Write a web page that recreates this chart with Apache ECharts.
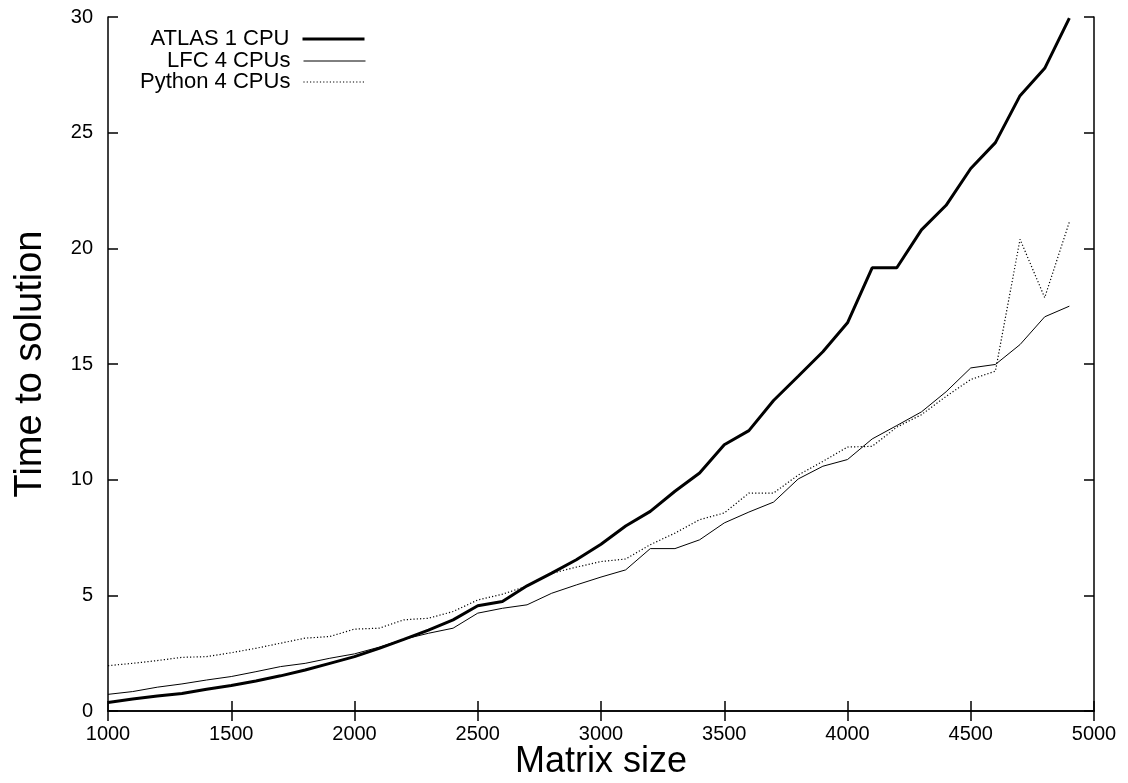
<!DOCTYPE html>
<html>
<head>
<meta charset="utf-8">
<script src="https://cdn.jsdelivr.net/npm/echarts@6/dist/echarts.min.js"></script>
<style>
  html, body { margin: 0; padding: 0; background: #fff; }
  #container { width: 1128px; height: 783px; }
</style>
</head>
<body>
<div id="container"></div>
<script>
var sizes = [1000, 1100, 1200, 1300, 1400, 1500, 1600, 1700, 1800, 1900,
             2000, 2100, 2200, 2300, 2400, 2500, 2600, 2700, 2800, 2900,
             3000, 3100, 3200, 3300, 3400, 3500, 3600, 3700, 3800, 3900,
             4000, 4100, 4200, 4300, 4400, 4500, 4600, 4700, 4800, 4900];
var atlas1 = [0.37, 0.52, 0.65, 0.76, 0.94, 1.1, 1.3, 1.52, 1.77, 2.06,
              2.35, 2.71, 3.1, 3.5, 3.94, 4.55, 4.73, 5.41, 5.96, 6.54,
              7.21, 8.0, 8.63, 9.5, 10.29, 11.51, 12.12, 13.42, 14.47, 15.53,
              16.78, 19.16, 19.16, 20.8, 21.86, 23.45, 24.57, 26.6, 27.78, 29.95];
var lfc4 = [0.72, 0.84, 1.03, 1.17, 1.34, 1.49, 1.7, 1.92, 2.06, 2.28,
            2.47, 2.76, 3.1, 3.36, 3.58, 4.23, 4.44, 4.59, 5.09, 5.45,
            5.79, 6.1, 7.02, 7.02, 7.4, 8.13, 8.6, 9.03, 10.03, 10.58,
            10.87, 11.76, 12.34, 12.93, 13.8, 14.83, 14.98, 15.84, 17.04, 17.5];
var python4 = [1.96, 2.06, 2.18, 2.32, 2.35, 2.52, 2.71, 2.93, 3.15, 3.22,
               3.54, 3.58, 3.94, 4.01, 4.3, 4.8, 5.05, 5.4, 5.95, 6.22,
               6.46, 6.57, 7.19, 7.69, 8.27, 8.56, 9.42, 9.42, 10.2, 10.79,
               11.41, 11.44, 12.27, 12.81, 13.6, 14.33, 14.69, 20.39, 17.87, 21.14];
var names = ['ATLAS 1 CPU', 'LFC 4 CPUs', 'Python 4 CPUs'];
var widths = [3, 1, 1.2];

function pairs(vals) {
    return sizes.map(function (s, i) { return [s, vals[i]]; });
}

var font = 'Liberation Sans';
var frame = { lineStyle: { color: '#000', width: 1.5 } };
var tick = { inside: true, length: 10, lineStyle: { color: '#000', width: 1.5 } };

var dom = document.getElementById('container');
var myChart = echarts.init(dom);

// one legend per row so the line samples line up on the right
function legendRow(i, top) {
    return {
        data: [names[i]],
        right: 762,
        top: top,
        orient: 'vertical',
        align: 'right',
        padding: 0,
        itemWidth: 62,
        itemHeight: 14,
        selectedMode: false,
        itemStyle: { opacity: 0 },
        lineStyle: { width: widths[i] },
        textStyle: { fontFamily: font, fontSize: 22, color: '#000', lineHeight: 22, padding: [0, 8, 0, 0] }
    };
}

option = {
    backgroundColor: '#fff',
    animation: false,
    grid: { left: 108, right: 34, top: 17, bottom: 72, containLabel: false, outerBoundsMode: 'none' },
    legend: [
        legendRow(0, 28),
        legendRow(1, 50),
        legendRow(2, 71)
    ],
    xAxis: [
        {
            type: 'value', min: 1000, max: 5000, interval: 500,
            name: 'Matrix size', nameLocation: 'middle', nameGap: 33, nameMoveOverlap: false,
            nameTextStyle: { fontFamily: font, fontSize: 36, color: '#000' },
            axisLine: frame, axisTick: tick,
            axisLabel: {
                fontFamily: font, fontSize: 20, color: '#000', margin: 13,
                formatter: function (v) { return String(v); }
            },
            splitLine: { show: false }
        },
        {
            type: 'value', position: 'top', min: 1000, max: 5000, interval: 500,
            axisLine: frame, axisTick: tick,
            axisLabel: { show: false }, splitLine: { show: false }
        }
    ],
    yAxis: [
        {
            type: 'value', min: 0, max: 30, interval: 5,
            name: 'Time to solution', nameLocation: 'middle', nameGap: 58, nameMoveOverlap: false,
            nameTextStyle: { fontFamily: font, fontSize: 38, color: '#000' },
            axisLine: frame, axisTick: tick,
            axisLabel: { fontFamily: font, fontSize: 20, color: '#000', margin: 15 },
            splitLine: { show: false }
        },
        {
            type: 'value', position: 'right', min: 0, max: 30, interval: 5,
            axisLine: frame, axisTick: tick,
            axisLabel: { show: false }, splitLine: { show: false }
        }
    ],
    series: [
        {
            name: names[0], type: 'line', symbol: 'none', data: pairs(atlas1),
            itemStyle: { color: '#000' },
            lineStyle: { color: '#000', width: widths[0] }
        },
        {
            name: names[1], type: 'line', symbol: 'none', data: pairs(lfc4),
            itemStyle: { color: '#000' },
            lineStyle: { color: '#000', width: widths[1] }
        },
        {
            name: names[2], type: 'line', symbol: 'none', data: pairs(python4),
            itemStyle: { color: '#000' },
            lineStyle: { color: '#000', width: widths[2], type: [1.2, 2.1] }
        }
    ]
};
myChart.setOption(option, true);
</script>
</body>
</html>
